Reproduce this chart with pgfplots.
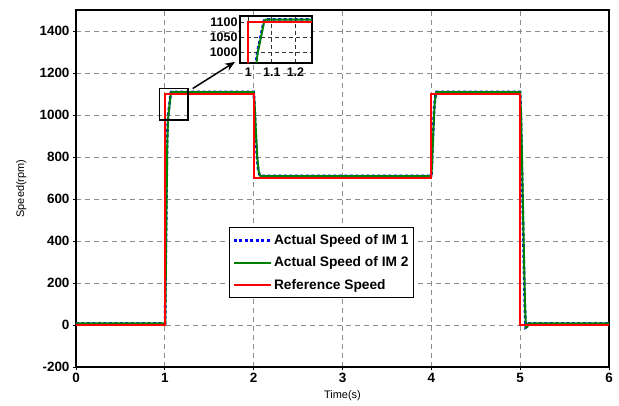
\documentclass[border=0pt]{standalone}
\usepackage{fontspec}
\setmainfont{Liberation Sans}
\usepackage{pgfplots}
\pgfplotsset{compat=1.18}
\usetikzlibrary{arrows.meta}
\definecolor{mgreen}{rgb}{0,0.5,0}

\pgfplotstableread{
t v
0 8
1.005 8
1.012 300
1.02 600
1.028 880
1.035 966
1.04 1000
1.055 1055
1.068 1105
1.075 1109
2.0 1109
2.01 1060
2.025 920
2.04 800
2.055 735
2.07 712
2.08 709
4.0 709
4.008 760
4.02 900
4.035 1040
4.05 1100
4.06 1109
5.0 1109
5.01 1000
5.025 700
5.04 380
5.055 90
5.065 -12
5.08 -8
5.1 8
6 8
}\imtwo

\pgfplotstableread{
t v
0 8
1.003 8
1.010 300
1.018 600
1.026 880
1.033 966
1.038 1000
1.053 1055
1.066 1105
1.073 1110
2.0 1110
2.008 1060
2.022 920
2.037 800
2.052 735
2.067 712
2.077 710
4.0 710
4.006 760
4.018 900
4.033 1040
4.048 1100
4.058 1110
5.0 1110
5.008 1000
5.022 700
5.037 380
5.052 90
5.062 -12
5.077 -8
5.097 8
6 8
}\imone

\pgfplotstableread{
t v
0 0
1 0
1 1100
2 1100
2 700
4 700
4 1100
5 1100
5 0
6 0
}\refspeed

\begin{document}
\begin{tikzpicture}
\useasboundingbox (-76bp,-39bp) rectangle (543bp,367bp);
\begin{axis}[
  name=main,
  at={(0,0)}, anchor=south west,
  scale only axis,
  width=533bp, height=357bp,
  xmin=0, xmax=6, ymin=-200, ymax=1500,
  xtick={0,1,2,3,4,5,6},
  ytick={-200,0,200,400,600,800,1000,1200,1400},
  /pgf/number format/assume math mode=true,
  /pgf/number format/set thousands separator={},
  tick label style={font=\bfseries\fontsize{13.5}{16}\selectfont},
  xlabel={Time(s)}, ylabel={Speed(rpm)},
  label style={font=\fontsize{11}{13}\selectfont},
  xlabel style={at={(0.5,0)}, anchor=north, yshift=-20bp},
  ylabel style={at={(0,0.5)}, anchor=south, xshift=0bp, yshift=46bp},
  grid=major,
  grid style={dash pattern=on 5bp off 4bp, gray!90, line width=0.8bp},
  axis line style={line width=1.2bp},
  tick align=outside, major tick length=3bp,
  tick style={black, line width=0.8bp},
  xtick pos=bottom, ytick pos=left,
  legend cell align=left,
  legend style={at={(0.287,0.392)}, anchor=north west, draw=black, line width=1bp,
    font=\bfseries\fontsize{13.8}{16}\selectfont, row sep=7bp, inner xsep=3bp, inner ysep=5bp},
  legend image code/.code={\draw[#1] (4bp,0bp) -- (41bp,0bp);},
]
\addplot[blue, line width=2.6bp, dash pattern=on 3bp off 2.5bp] table[x=t,y=v] {\imone};
\addlegendentry{Actual Speed of IM 1}
\addplot[mgreen, line width=2bp] table[x=t,y=v] {\imtwo};
\addlegendentry{Actual Speed of IM 2}
\addplot[red, line width=2.2bp] table[x=t,y=v] {\refspeed};
\addlegendentry{Reference Speed}
\draw[black, line width=1.5bp] (axis cs:0.94,975) rectangle (axis cs:1.26,1126);
\draw[-{Stealth[length=10bp,width=8bp]}, black, line width=1.5bp] (axis cs:1.314,1126) -- (axis cs:1.79,1253);
\end{axis}
\begin{axis}[
  at={(164bp,304bp)}, anchor=south west,
  scale only axis,
  width=72bp, height=47bp,
  xmin=0.965, xmax=1.27, ymin=965, ymax=1121,
  xtick={1,1.1,1.2}, ytick={1000,1050,1100},
  xticklabels={1,1.1,1.2},
  /pgf/number format/assume math mode=true,
  /pgf/number format/set thousands separator={},
  tick label style={font=\bfseries\fontsize{12.5}{14}\selectfont},
  xticklabel style={yshift=-1bp},
  yticklabel style={xshift=1bp},
  grid=major,
  grid style={dash pattern=on 4bp off 3bp, black!80, line width=0.8bp},
  axis line style={line width=1.2bp},
  axis background/.style={fill=white},
  tick align=inside, major tick length=0bp,
  clip=true,
]
\addplot[blue, line width=2.6bp, dash pattern=on 3bp off 2.5bp] table[x=t,y=v] {\imone};
\addplot[mgreen, line width=2bp] table[x=t,y=v] {\imtwo};
\addplot[red, line width=2.2bp] table[x=t,y=v] {\refspeed};
\end{axis}
\end{tikzpicture}
\end{document}
